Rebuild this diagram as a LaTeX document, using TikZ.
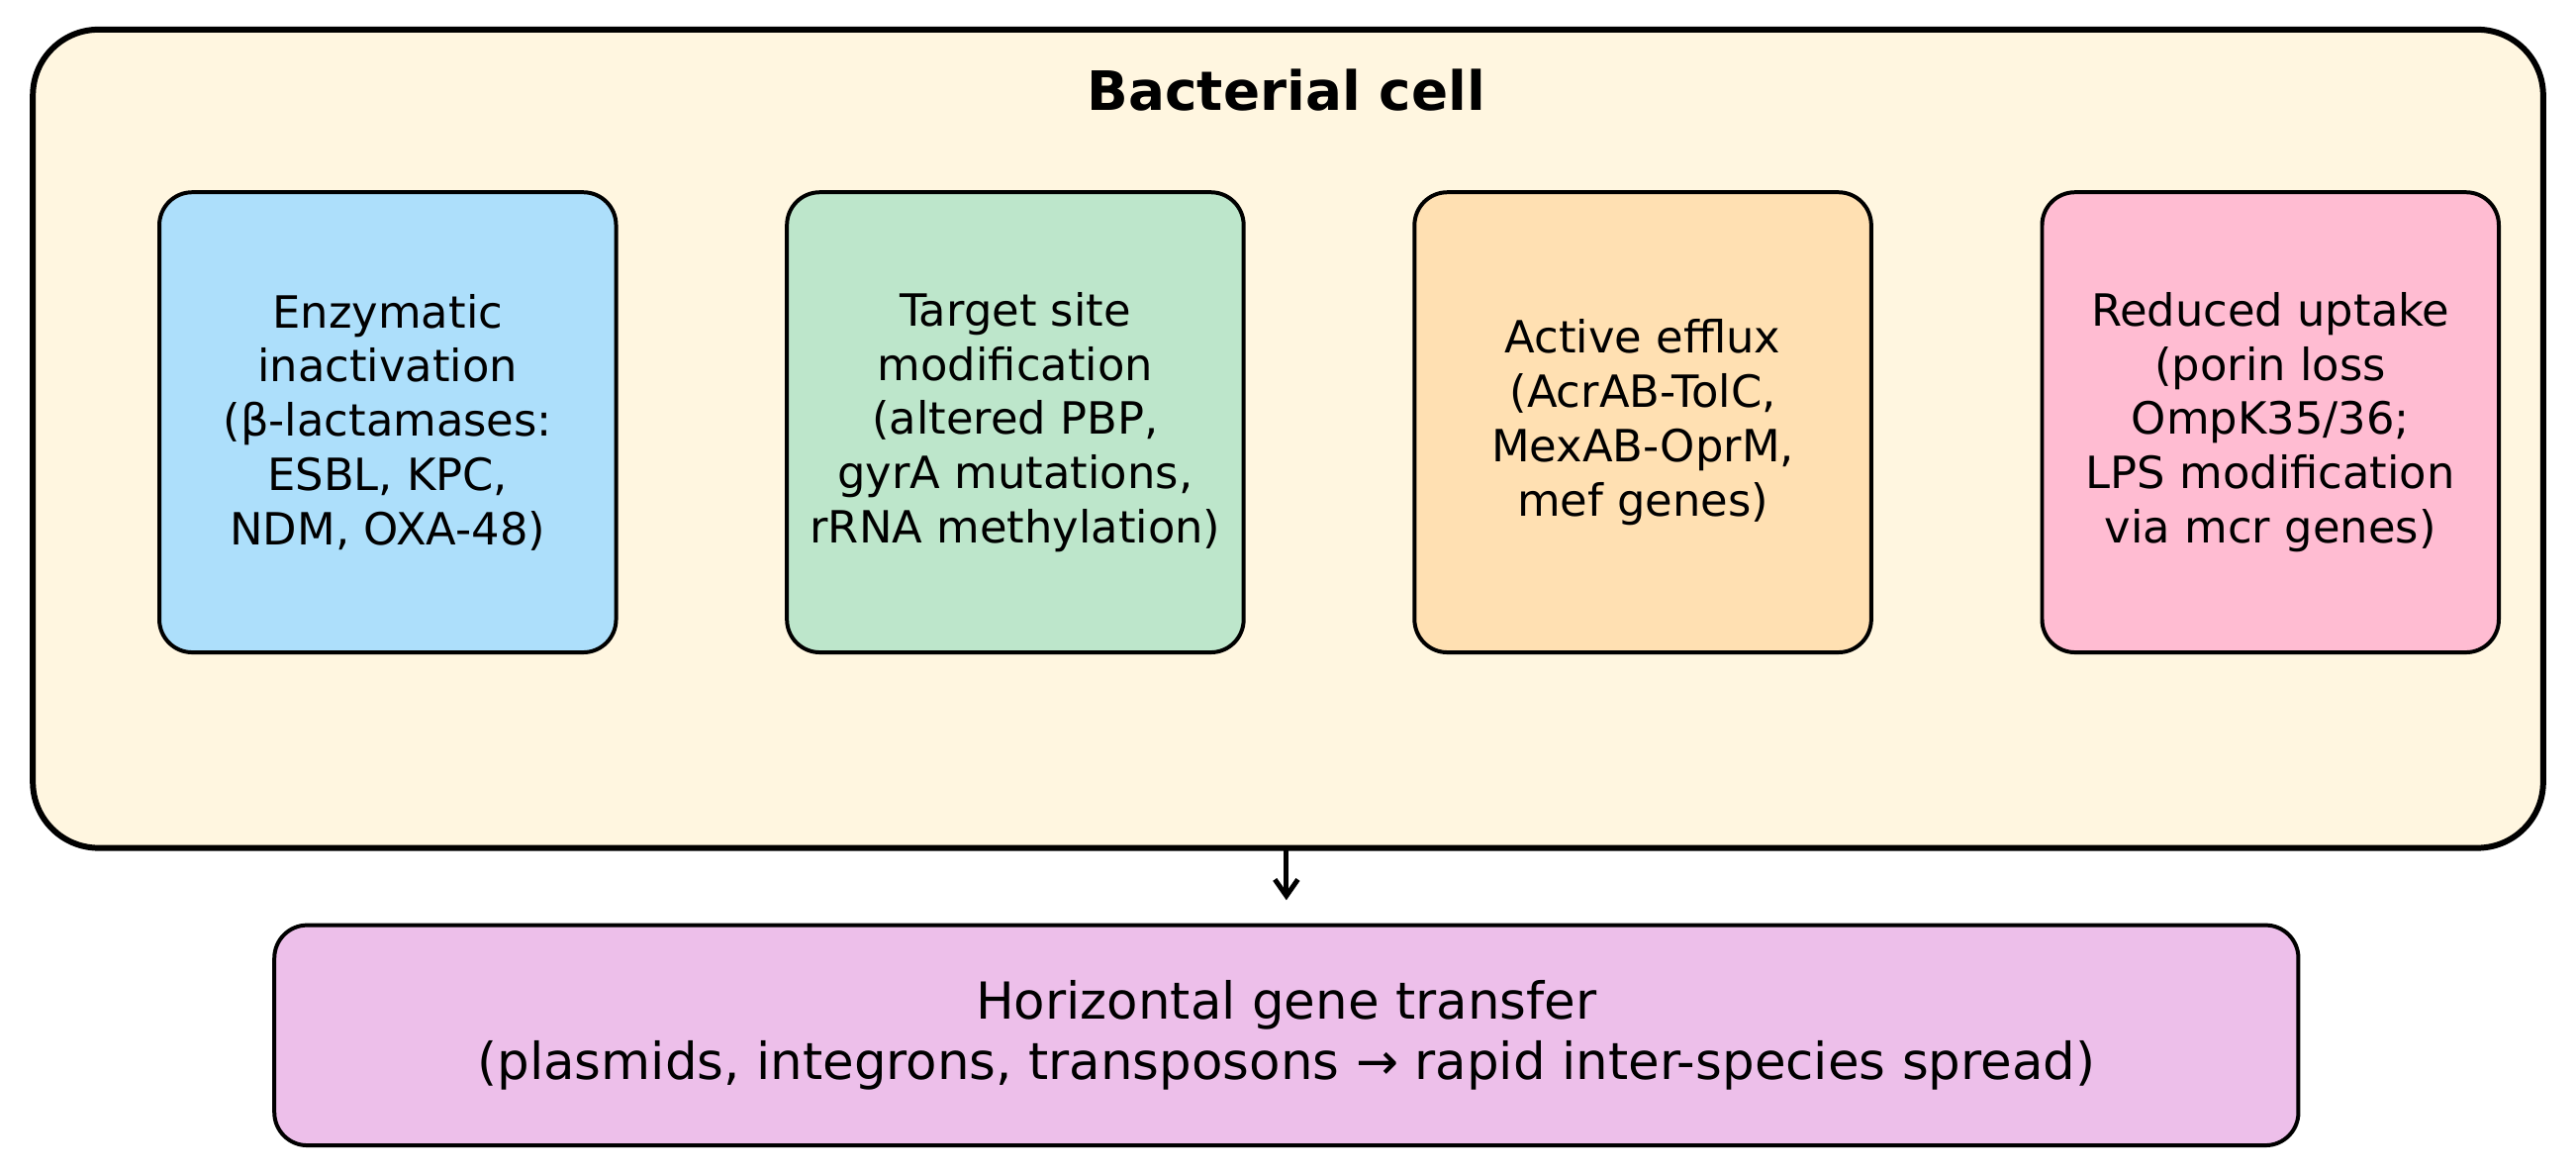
\documentclass[tikz,border=0pt]{standalone}
\usepackage{fontspec}
\setmainfont{DejaVu Sans}
\usetikzlibrary{arrows.meta}
\begin{document}
\begin{tikzpicture}[x=0.5pt,y=-0.5pt,
  mech/.style={draw=black,line width=1.2pt,rounded corners=10pt,align=center,font=\fontsize{13.5}{16.5}\selectfont},
]
\useasboundingbox (0,0) rectangle (1568,715);
\draw[line width=1.8pt,fill={rgb,255:red,255;green,246;blue,224},rounded corners=20pt] (20,18) rectangle (1548,516);
\node[font=\bfseries\fontsize{16.5}{20}\selectfont] (title) at (783,55) {Bacterial cell};
\coordinate (cellb) at (783,516);
\node[mech,fill={rgb,255:red,173;green,223;blue,251},minimum width=139pt,minimum height=140pt] (a) at (236,257) {Enzymatic\\inactivation\\(β-lactamases:\\ESBL, KPC,\\NDM, OXA-48)};
\node[mech,fill={rgb,255:red,189;green,230;blue,203},minimum width=139pt,minimum height=140pt] (b) at (618,257) {Target site\\modification\\(altered PBP,\\gyrA mutations,\\rRNA methylation)};
\node[mech,fill={rgb,255:red,255;green,224;blue,178},minimum width=139pt,minimum height=140pt] (c) at (1000,257) {Active efflux\\(AcrAB-TolC,\\MexAB-OprM,\\mef genes)};
\node[mech,fill={rgb,255:red,255;green,188;blue,210},minimum width=139pt,minimum height=140pt] (d) at (1382,257) {Reduced uptake\\(porin loss\\OmpK35/36;\\LPS modification\\via mcr genes)};
\node[mech,fill={rgb,255:red,237;green,191;blue,234},minimum width=616pt,minimum height=67pt,font=\fontsize{15.5}{18.5}\selectfont] (h) at (783,630) {Horizontal gene transfer\\(plasmids, integrons, transposons → rapid inter-species spread)};
\draw[line width=1.5pt,-{Straight Barb[length=5pt,width=7pt]}] (cellb) -- ([yshift=7pt]h.north);
\end{tikzpicture}
\end{document}
